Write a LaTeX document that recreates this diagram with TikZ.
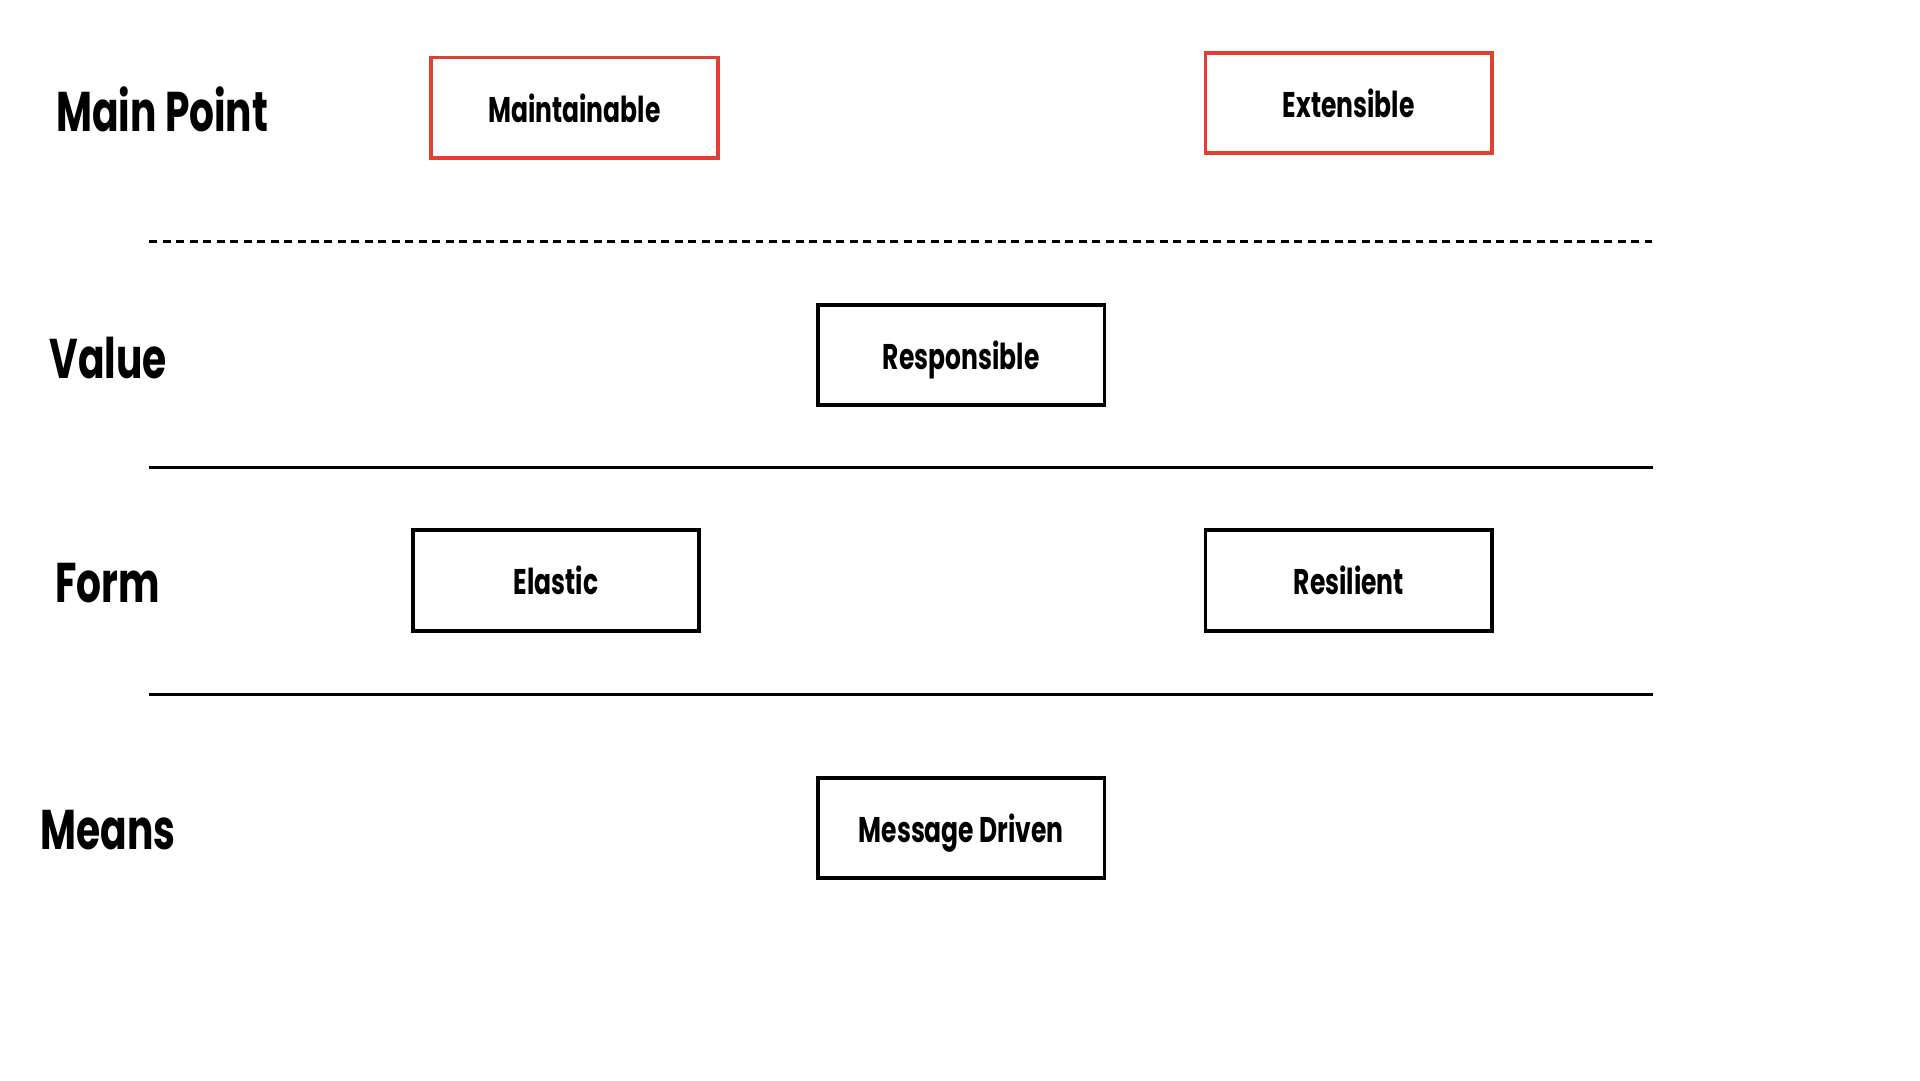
\documentclass[tikz,border=0pt]{standalone}
\usepackage{fontspec}
\newfontfamily\sketchfont{Poppins}[FakeStretch=0.70]
\definecolor{sketchred}{RGB}{224,64,48}
\tikzset{
  point/.style={draw=black, line width=0.9pt, minimum width=2.34cm, minimum height=0.82cm,
    inner sep=0pt, text depth=0pt, font=\sketchfont\bfseries\fontsize{8.3}{10}\selectfont},
  mainpoint/.style={point, draw=sketchred},
  layer/.style={font=\sketchfont\bfseries\fontsize{13}{15}\selectfont, inner sep=0pt},
}
\begin{document}
\begin{tikzpicture}
            \useasboundingbox (0,0) rectangle (15.68,8.82);
            % layer titles
            \node[layer] (main) at (1.325,7.93) {Main Point};
            \node[layer] (value) at (0.885,5.90) {Value};
            \node[layer] (form) at (0.88,4.06) {Form};
            \node[layer] (means) at (0.885,2.04) {Means};
            % separators
            \coordinate (s1a) at (1.22,6.85);
            \coordinate (s1b) at (13.50,6.85);
            \coordinate (s2a) at (1.22,5.00);
            \coordinate (s2b) at (13.50,5.00);
            \coordinate (s3a) at (1.22,3.15);
            \coordinate (s3b) at (13.50,3.15);
            \draw[line width=0.8pt, dash pattern=on 0.065cm off 0.045cm] (s1a) -- (s1b);
            \draw[line width=0.6pt] (s2a) -- (s2b);
            \draw[line width=0.6pt] (s3a) -- (s3b);
            % boxes
            \node[mainpoint] (maintainable) at (4.69,7.94) {Maintainable};
            \node[mainpoint] (extensible) at (11.015,7.98) {Extensible};
            \node[point] (responsible) at (7.85,5.92) {Responsible};
            \node[point] (elastic) at (4.54,4.08) {Elastic};
            \node[point] (resilient) at (11.015,4.08) {Resilient};
            \node[point] (message) at (7.85,2.06) {Message Driven};
        \end{tikzpicture}
\end{document}
